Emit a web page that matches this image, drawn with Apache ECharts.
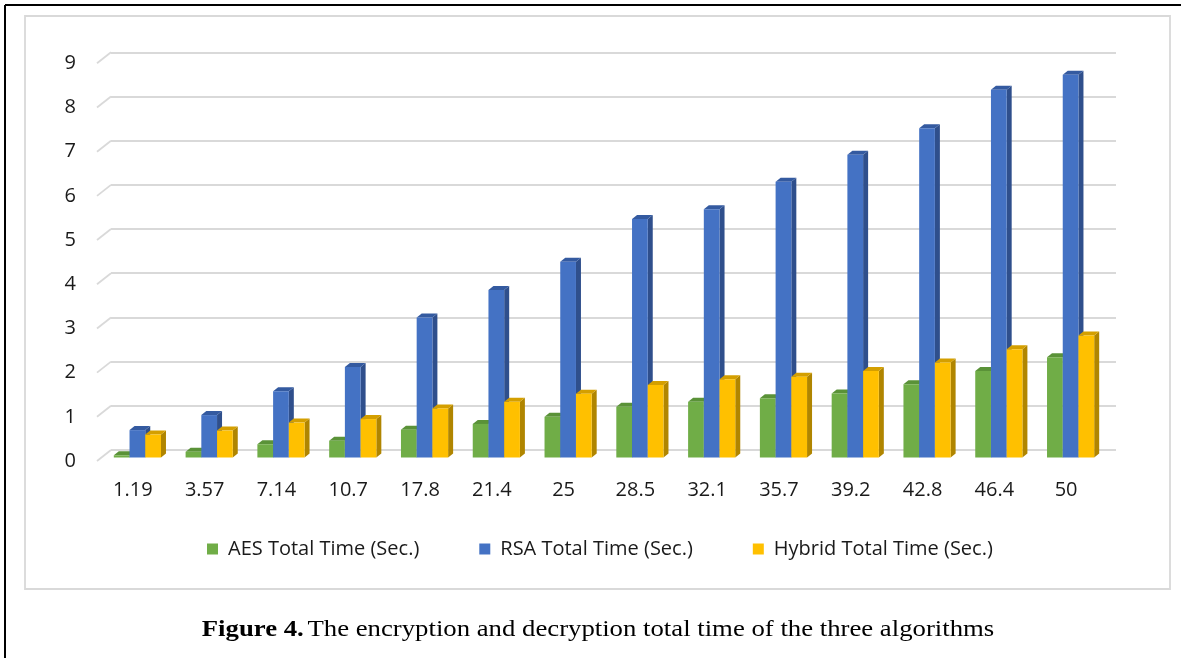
<!DOCTYPE html>
<html><head><meta charset="utf-8">
<script src="https://cdn.jsdelivr.net/npm/echarts@6/dist/echarts.min.js"></script>
<style>html,body{margin:0;padding:0;background:#fff}#c{width:1181px;height:658px}</style>
</head><body><div id="c"></div>
<script>
const categories = ['1.19','3.57','7.14','10.7','17.8','21.4','25','28.5','32.1','35.7','39.2','42.8','46.4','50'];
const aesTime    = [0.05,0.13,0.30,0.38,0.63,0.76,0.92,1.15,1.26,1.34,1.45,1.66,1.96,2.27];
const rsaTime    = [0.62,0.96,1.50,2.05,3.17,3.79,4.43,5.40,5.62,6.24,6.85,7.45,8.32,8.66];
const hybridTime = [0.52,0.61,0.79,0.87,1.11,1.26,1.44,1.64,1.77,1.83,1.96,2.15,2.45,2.76];
const seriesNames = ['AES Total Time (Sec.)','RSA Total Time (Sec.)','Hybrid Total Time (Sec.)'];
const yTicks = [0,1,2,3,4,5,6,7,8,9];

const faceColors = [
  {front:'#70AD47', side:'#4f7f31', top:'#5a9238'},
  {front:'#4472C4', side:'#2f4f8c', top:'#345aa0'},
  {front:'#FFC000', side:'#b08500', top:'#d49f00'}
];
const seriesValues = [aesTime, rsaTime, hybridTime];

// layout constants (pixels)
const FLOOR_DX = 14, FLOOR_DY = -11;     // front -> back wall
const BAR_SHIFT_X = 4.5, BAR_SHIFT_Y = -3.5; // front plane -> bar front face
const BAR_DX = 5, BAR_DY = -4;           // bar depth
const BAR_FRAC = 0.219;                  // bar width / category width

const chart = echarts.init(document.getElementById('c'), null, {renderer:'canvas'});

function barRenderer(s) {
  return function (params, api) {
    const idx = api.value(0), val = api.value(1);
    const base = api.coord([idx, 0]);
    const top = api.coord([idx, val]);
    const bw = api.size([1, 0])[0] * BAR_FRAC;
    const x0 = base[0] - 1.5 * bw + s * bw + BAR_SHIFT_X;
    const x1 = x0 + bw;
    const yb = base[1] + BAR_SHIFT_Y;
    const yt = top[1] + BAR_SHIFT_Y;
    const c = faceColors[s];
    return {
      type: 'group',
      children: [
        {type:'polygon', shape:{points:[[x1,yt],[x1+BAR_DX,yt+BAR_DY],[x1+BAR_DX,yb+BAR_DY],[x1,yb]]}, style:{fill:c.side}},
        {type:'polygon', shape:{points:[[x0,yt],[x0+BAR_DX,yt+BAR_DY],[x1+BAR_DX,yt+BAR_DY],[x1,yt]]}, style:{fill:c.top}},
        {type:'rect', shape:{x:x0, y:yt, width:bw, height:yb-yt}, style:{fill:c.front}}
      ]
    };
  };
}

const series = [
  {
    type:'custom', xAxisIndex:0, yAxisIndex:0, silent:true, z:1,
    data: yTicks.map(v => [0, v]),
    encode:{x:0, y:1},
    renderItem: function (params, api) {
      const p = api.coord([0, api.value(1)]);
      const w = api.size([1, 0])[0];
      const x = p[0] - w / 2;
      return {type:'line', shape:{x1:x, y1:p[1], x2:x+FLOOR_DX, y2:p[1]+FLOOR_DY},
              style:{stroke:'#d9d9d9', lineWidth:1.8}};
    }
  }
];
seriesValues.forEach((vals, s) => {
  series.push({
    name: seriesNames[s], type:'custom', xAxisIndex:0, yAxisIndex:0, z:2,
    itemStyle:{color: faceColors[s].front},
    data: vals.map((v, i) => [i, v]),
    encode:{x:0, y:1},
    renderItem: barRenderer(s)
  });
});

const labelFont = '"Open Sans", sans-serif';

chart.setOption({
  animation:false,
  backgroundColor:'#fff',
  grid:[
    {left:97, right:79, top:63.3, bottom:197, containLabel:false, outerBoundsMode:'none'},
    {left:111, right:65, top:52.3, bottom:208, containLabel:false, outerBoundsMode:'none'}
  ],
  xAxis:[
    {type:'category', gridIndex:0, data:categories, axisLine:{show:false}, axisTick:{show:false},
     splitLine:{show:false},
     axisLabel:{margin:19, fontSize:20, color:'#1a1a1a', fontFamily:labelFont}},
    {type:'category', gridIndex:1, data:categories, show:false}
  ],
  yAxis:[
    {type:'value', gridIndex:0, min:0, max:9, interval:1, axisLine:{show:false}, axisTick:{show:false},
     splitLine:{show:false},
     axisLabel:{margin:21, fontSize:20, color:'#1a1a1a', fontFamily:labelFont}},
    {type:'value', gridIndex:1, min:0, max:9, interval:1, axisLine:{show:false}, axisTick:{show:false},
     axisLabel:{show:false},
     splitLine:{show:true, lineStyle:{color:'#d9d9d9', width:1.8}}}
  ],
  legend:{
    data:seriesNames, left:207, top:539, padding:0, itemGap:60, itemWidth:11, itemHeight:11, icon:'rect',
    textStyle:{fontSize:20, color:'#1a1a1a', fontFamily:labelFont, padding:[0,0,0,5]}
  },
  graphic:[
    {type:'line', shape:{x1:5, y1:5, x2:1181, y2:5}, style:{stroke:'#000', lineWidth:2}, silent:true},
    {type:'line', shape:{x1:5, y1:5, x2:5, y2:658}, style:{stroke:'#000', lineWidth:2}, silent:true},
    {type:'rect', shape:{x:25, y:16, width:1145, height:573}, style:{fill:null, stroke:'#d9d9d9', lineWidth:1.8}, silent:true},
    {type:'text', x:598, y:630, scaleX:1.114, silent:true,
     style:{text:'{b|Figure 4.} {n|The encryption and decryption total time of the three algorithms}',
            align:'center', verticalAlign:'middle',
            rich:{b:{fontFamily:'"Liberation Serif", "Times New Roman", serif', fontWeight:'bold', fontSize:24, fill:'#000'},
                  n:{fontFamily:'"Liberation Serif", "Times New Roman", serif', fontSize:24, fill:'#000'}}}}
  ],
  series: series
});
</script>
</body></html>
